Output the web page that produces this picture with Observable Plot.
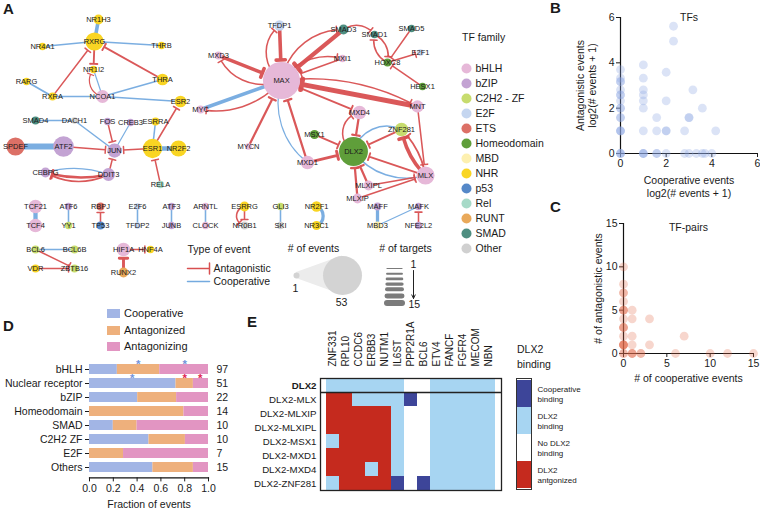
<!DOCTYPE html>
<html><head><meta charset="utf-8">
<script src="https://cdn.jsdelivr.net/npm/d3@7"></script>
<script src="https://cdn.jsdelivr.net/npm/@observablehq/plot@0.6"></script>
<style>
body{margin:0;background:#fff;}
#root{position:relative;width:760px;height:509px;overflow:hidden;font-family:"Liberation Sans",Arial,sans-serif;color:#1a1a1a;}
.lbl{position:absolute;font-weight:bold;font-size:15px;line-height:15px;}
.txt{position:absolute;font-size:10.5px;line-height:13px;white-space:nowrap;}
.sw{position:absolute;width:13px;height:9px;}
</style></head><body><div id="root"></div>
<script>
// ---------------- DATA ----------------
// Panel A: TF families and network
const families = ["bHLH","bZIP","C2H2 - ZF","E2F","ETS","Homeodomain","MBD","NHR","p53","Rel","RUNT","SMAD","Other"];
const familyColors = ["#e6b8d8","#c3a3d3","#c7dc6e","#c5d6f0","#dc7066","#5f9e3a","#fdf0b0","#f9d523","#5588c8","#a7dac8","#e9a95a","#4e8e81","#d0d0d0"];
// [name, family, number of events]
const tfNodes = [
 ["NR1H3","NHR",7],["RXRG","NHR",20],["NR4A1","NHR",3],["THRB","NHR",3],["NR1I2","NHR",3],["RARG","NHR",3],
 ["THRA","NHR",10],["RXRA","NHR",4],["NCOA1","bHLH",12],["ESR2","NHR",10],["MYC","bHLH",4],["MXD3","bHLH",4],
 ["SMAD4","SMAD",4],["DACH1","Other",2],["FOS","bZIP",3],["CREB3","bZIP",3],["ESRRA","NHR",4],["SPDEF","ETS",20],
 ["ATF2","bZIP",24],["JUN","bZIP",14],["ESR1","NHR",22],["NR2F2","NHR",17],["CEBPG","bZIP",7],["DDIT3","bZIP",12],
 ["RELA","Rel",3],["TFDP1","E2F",8],["SMAD3","SMAD",7],["SMAD1","SMAD",3],["SMAD5","SMAD",3],["MXI1","bHLH",3],
 ["HOXC8","Homeodomain",4],["E2F1","E2F",2],["MAX","bHLH",50],["HESX1","Homeodomain",3],["MNT","bHLH",11],
 ["MXD4","bHLH",13],["ZNF281","C2H2 - ZF",13],["MSX1","Homeodomain",6],["DLX2","Homeodomain",37],["MXD1","bHLH",13],
 ["MYCN","bHLH",2],["MLX","bHLH",20],["MLXIPL","bHLH",7],["MLXIP","bHLH",7],
 ["TCF21","bHLH",13],["TCF4","bHLH",13],["ATF6","bZIP",3],["YY1","C2H2 - ZF",3],["RBPJ","ETS",4],["TP53","p53",4],
 ["E2F6","E2F",2],["TFDP2","E2F",2],["ATF3","bZIP",3],["JUNB","bZIP",3],["ARNTL","bHLH",3],["CLOCK","bHLH",3],
 ["ESRRG","NHR",7],["NR0B1","Other",4],["GLI3","C2H2 - ZF",3],["SKI","Other",3],["NR2F1","NHR",8],["NR3C1","NHR",6],
 ["MAFF","bZIP",4],["MBD3","MBD",4],["MAFK","bZIP",3],["NFE2L2","bZIP",3],
 ["BCL6","C2H2 - ZF",4],["BCL6B","C2H2 - ZF",4],["VDR","NHR",4],["ZBTB16","C2H2 - ZF",4],["HIF1A","bHLH",13],
 ["HNF4A","NHR",3],["RUNX2","RUNT",7]
];
// [source, target, a = antagonistic / c = cooperative, number of targets]
const tfEdges = [
 ["NR1H3","RXRG","c",8],["NR4A1","RXRG","c",2],["RXRG","THRB","c",2],["RXRA","RXRG","a",2],["RXRG","NR1I2","a",3],
 ["THRA","RXRG","a",3],["NCOA1","NR1I2","c",1],["NCOA1","NR1I2","a",1],["RARG","RXRA","c",3],["RXRA","NCOA1","c",2],
 ["NCOA1","THRA","c",2],["NCOA1","ESR2","c",2],["ESR1","ESR2","a",2],["ESRRA","ESR1","c",2],["ESR1","NR2F2","c",10],
 ["RELA","ESR1","a",2],["ESR1","JUN","a",2],["SMAD4","DACH1","c",2],["DACH1","JUN","c",2],["FOS","JUN","a",2],
 ["CREB3","JUN","c",1],["SPDEF","ATF2","c",15],["ATF2","JUN","a",2],["DDIT3","JUN","a",2],["CEBPG","DDIT3","c",1],
 ["DDIT3","CEBPG","a",5],["DDIT3","CEBPG","a",3],
 ["MYC","MAX","c",8],["MAX","MYC","a",2],["MXD3","MAX","a",8],["MAX","MXD3","a",2],["TFDP1","MAX","a",8],
 ["MAX","TFDP1","a",2],["MYCN","MAX","a",4],["MXD1","MAX","a",4],["MXD1","MAX","c",1],["SMAD3","MAX","a",10],
 ["MAX","SMAD3","a",2],["MXI1","MAX","a",2],["MAX","MXI1","a",2],["MNT","MAX","a",12],["MAX","MNT","a",2],
 ["MAX","MXD4","a",3],["SMAD3","SMAD1","a",2],["SMAD1","HOXC8","a",2],["HOXC8","SMAD1","a",2],["SMAD5","HOXC8","a",2],
 ["HOXC8","E2F1","a",2],["HESX1","HOXC8","a",2],["MXD4","DLX2","a",4],["DLX2","MXD4","a",2],["MSX1","DLX2","a",3],
 ["MXD1","DLX2","a",6],["ZNF281","DLX2","a",3],["DLX2","ZNF281","c",2],["MLX","DLX2","a",3],["DLX2","MLX","c",2],
 ["MLXIPL","DLX2","a",4],["MLXIP","DLX2","a",4],["MLXIPL","MLX","a",2],["MLXIP","MLX","a",2],["MLX","ZNF281","a",8],
 ["MLX","ZNF281","a",3],["MNT","MLX","a",2],
 ["TCF21","TCF4","c",10],["ATF6","YY1","c",2],["TP53","RBPJ","a",2],["E2F6","TFDP2","c",2],["ATF3","JUNB","c",2],
 ["ARNTL","CLOCK","c",2],["ESRRG","NR0B1","a",2],["ESRRG","NR0B1","a",2],["GLI3","SKI","c",2],["NR2F1","NR3C1","c",7],
 ["MAFF","MBD3","c",7],["MBD3","MAFK","c",1],["NFE2L2","MAFK","a",2],["BCL6","BCL6B","c",2],["BCL6","ZBTB16","a",2],
 ["VDR","ZBTB16","a",2],["HIF1A","HNF4A","a",2],["RUNX2","HIF1A","a",6]
];
const eventsLegend = [1, 53];
const targetsLegend = [1, 3, 5, 7, 9, 12, 15];

// Panel B: TFs (raw event counts, plotted as log2(n + 1))
const tfCoopEvents  = [0,0,0,0,0,0,0,0,0,0,0,0,0,0,0,0,0,0, 1,1,1,1,1,1,1,1,1,1, 2,2,2,2, 3,3,3,3,3, 4,4, 6,6, 7,7,7, 8, 9, 11,11, 12, 15, 17];
const tfAntagEvents = [12,9,8,8,6,5,5,4,3,3,2,2,1,1,1,0,0,0, 14,9,6,5,4,3,1,0,0,0, 2,1,0,0, 11,4,1,1,0, 48,30, 1,0, 2,2,0, 6, 0, 3,0, 0, 0, 1];

// Panel C: TF-pairs
const pairCoop  = [0,0,0,0,0,0,0,0,0,0,0,0,0,0,0,0,0,0,0,0, 1,1,1,1,1,1,1, 2,2, 3,3, 6, 7, 10, 12, 15];
const pairAntag = [10,8,7,7,6,5,5,5,4,3,3,3,2,1,1,1,1,1,0,0, 5,4,2,1,0,0,0, 0,0, 4,1, 0, 2, 0, 0, 0];

// Panel D
const dFamilies = ["bHLH","Nuclear receptor","bZIP","Homeodomain","SMAD","C2H2 ZF","E2F","Others"];
const dCounts = [97, 51, 22, 14, 10, 10, 7, 15];
const eventTypes = ["Cooperative","Antagonized","Antagonizing"];
const fracCooperative  = [0.234, 0.727, 0.405, 0.000, 0.200, 0.500, 0.000, 0.533];
const fracAntagonized  = [0.356, 0.146, 0.327, 0.794, 0.200, 0.306, 0.286, 0.340];
const fracAntagonizing = [0.410, 0.127, 0.268, 0.206, 0.600, 0.194, 0.714, 0.127];
const dStars = [
 {family:"bHLH", x:0.41, kind:"coop"}, {family:"bHLH", x:0.80, kind:"coop"},
 {family:"Nuclear receptor", x:0.36, kind:"coop"}, {family:"Nuclear receptor", x:0.80, kind:"antag"},
 {family:"Nuclear receptor", x:0.93, kind:"antag"}
];

// Panel E
const eGenes = ["ZNF331","RPL10","CCDC6","ERBB3","NUTM1","IL6ST","PPP2R1A","BCL6","ETV4","FANCF","FGFR4","MECOM","NBN"];
const eRows = ["DLX2","DLX2-MLX","DLX2-MLXIP","DLX2-MLXIPL","DLX2-MSX1","DLX2-MXD1","DLX2-MXD4","DLX2-ZNF281"];
// D = cooperative binding, L = DLX2 binding, W = no DLX2 binding, R = DLX2 antagonized
const eStates = [
 "LLLLLLWWLLLLL",
 "RRLLLLDWLLLLL",
 "RRRRRLWWLLLLL",
 "RRRRRLWWLLLLL",
 "LRRRRLWWLLLLL",
 "RRRRRLWWLLLLL",
 "RRRLRLWWLLLLL",
 "LRRRRDWDLLLLL"
];
const eKeys = ["D","L","W","R"];
const eKeyLabels = ["Cooperative\nbinding","DLX2\nbinding","No DLX2\nbinding","DLX2\nantgonized"];

// ---------------- LAYOUT & STYLE ----------------
const FONT = "Liberation Sans, Arial, Helvetica, sans-serif";
const RED = "#d84f50", BLUE = "#74aadf";
const nodePos = {
 NR1H3:[98,19],RXRG:[94,41],NR4A1:[42,46],THRB:[161,45],NR1I2:[93,69],RARG:[26,81],THRA:[162,79],RXRA:[52,96],
 NCOA1:[102,96],ESR2:[180,101],MYC:[200,109],MXD3:[218,55],SMAD4:[35,120],DACH1:[74,120],FOS:[107,121],
 CREB3:[130,122],ESRRA:[155,121],SPDEF:[15,146],ATF2:[63,146],JUN:[114,150],ESR1:[152,148],NR2F2:[178,148],
 CEBPG:[45,172],DDIT3:[108,174],RELA:[160,184],
 TFDP1:[279,25],SMAD3:[343,29],SMAD1:[374,34],SMAD5:[411,28],MXI1:[342,58],HOXC8:[387,62],E2F1:[420,52],
 MAX:[281,80],HESX1:[422,86],MNT:[417,106],MXD4:[359,112],ZNF281:[401,129],MSX1:[314,134],DLX2:[353,151],
 MXD1:[307,162],MYCN:[248,146],MLX:[425,175],MLXIPL:[368,185],MLXIP:[357,198],
 TCF21:[35,206],TCF4:[35,225],ATF6:[68,206],YY1:[68,225],RBPJ:[100,206],TP53:[100,225],E2F6:[137,206],
 TFDP2:[137,225],ATF3:[171,206],JUNB:[171,225],ARNTL:[205,206],CLOCK:[205,225],ESRRG:[244,206],NR0B1:[244,225],
 GLI3:[280,206],SKI:[280,225],NR2F1:[316,206],NR3C1:[316,225],MAFF:[377,206],MBD3:[377,225],MAFK:[418,206],
 NFE2L2:[418,225],BCL6:[35,249],BCL6B:[74,249],VDR:[35,268],ZBTB16:[74,268],HIF1A:[123,249],HNF4A:[150,249],
 RUNX2:[123,272]
};
const edgeBend = {
 "NCOA1>NR1I2>a":[60],"CEBPG>DDIT3>c":[18],"DDIT3>CEBPG>a":[14,28],"MAX>MYC>a":[30],"MAX>MXD3>a":[45],
 "MAX>TFDP1>a":[55],"MXD1>MAX>c":[35],"MAX>SMAD3>a":[40],"MAX>MXI1>a":[35],"MAX>MNT>a":[18],"SMAD3>SMAD1>a":[45],
 "SMAD1>HOXC8>a":[40],"HOXC8>SMAD1>a":[40],"DLX2>MXD4>a":[70],"DLX2>ZNF281>c":[50],"DLX2>MLX>c":[-35],
 "MLX>ZNF281>a":[18,-18],"ESRRG>NR0B1>a":[0,-80],"NR2F1>NR3C1>c":[70]
};

const nodes = tfNodes.map(([name, fam, events]) => ({name, fam, events}));
const evOf = Object.fromEntries(nodes.map(d => [d.name, d.events]));
const rScale = {type: "linear", domain: [1, 53], range: [3, 19.5]};
const R = d3.scaleLinear().domain(rScale.domain).range(rScale.range);
const W = d3.scaleLinear().domain([1, 15]).range([1.2, 6]);
const bendUse = {};
function bendFor(e) {
  const k = `${e[0]}>${e[1]}>${e[2]}`;
  const arr = edgeBend[k]; if (!arr) return 0;
  const i = bendUse[k] = (bendUse[k] ?? -1) + 1;
  return arr[Math.min(i, arr.length - 1)];
}
const baseStyle = {background: "none", fontFamily: FONT, fontSize: "10.5px", color: "#1a1a1a", overflow: "visible"};
const root = document.getElementById("root");
function place(el, left, top) { el.style.position = "absolute"; el.style.left = left + "px"; el.style.top = top + "px"; root.appendChild(el); return el; }
function html(cls, text, left, top, extra) { const d = document.createElement("div"); d.className = cls; d.textContent = text; d.style.left = left + "px"; d.style.top = top + "px"; if (extra) Object.assign(d.style, extra); root.appendChild(d); return d; }

// ---------------- PANEL A ----------------
const edgeMarks = tfEdges.map(e => {
  const [s, t, kind, n] = e;
  const sw = W(n), isA = kind === "a";
  const half = 2.6 + sw * 0.55;
  return Plot.arrow([e], {
    x1: d => nodePos[d[0]][0], y1: d => nodePos[d[0]][1],
    x2: d => nodePos[d[1]][0], y2: d => nodePos[d[1]][1],
    stroke: isA ? RED : BLUE, strokeWidth: sw, strokeOpacity: 0.95,
    bend: bendFor(e), headAngle: 180, headLength: isA ? half * 1.5 / sw : 0,
    insetStart: isA ? R(evOf[s]) * 0.6 : 0, insetEnd: isA ? R(evOf[t]) + 2 : 0
  });
});
const plotA = Plot.plot({
  width: 520, height: 310, margin: 0, style: baseStyle,
  x: {domain: [0, 520], range: [0, 520], axis: null},
  y: {domain: [0, 310], range: [0, 310], axis: null},
  r: rScale,
  color: {domain: families, range: familyColors},
  marks: [
    ...edgeMarks,
    Plot.dot(nodes, {x: d => nodePos[d.name][0], y: d => nodePos[d.name][1], r: "events", fill: "fam"}),
    Plot.text(nodes, {x: d => nodePos[d.name][0], y: d => nodePos[d.name][1], text: "name", fontSize: 7.5, fill: "#1a1a1a"}),
    // Type of event legend
    Plot.text(["Type of event"], {x: () => 187, y: () => 249, textAnchor: "start", fontSize: 10.5}),
    Plot.arrow(["Antagonistic"], {x1: () => 187, x2: () => 209, y1: () => 268, y2: () => 268, stroke: RED, strokeWidth: 1.5, headAngle: 180, headLength: 5.5}),
    Plot.arrow(["Cooperative"], {x1: () => 187, x2: () => 209, y1: () => 281, y2: () => 281, stroke: BLUE, strokeWidth: 1.5, headLength: 0}),
    Plot.text(["Antagonistic","Cooperative"], {x: () => 213, y: (d, i) => 268 + i * 13, text: d => d, textAnchor: "start", fontSize: 10.5}),
    // # of events legend
    Plot.text(["# of events"], {x: () => 313, y: () => 248, fontSize: 10.5}),
    Plot.areaY(eventsLegend, {x: (d, i) => i ? 342 : 296, y1: d => 275 - R(d), y2: d => 275 + R(d), fill: "#ececec"}),
    Plot.dot(eventsLegend, {x: (d, i) => i ? 342 : 296, y: () => 275, r: d => d, fill: "#d3d3d3"}),
    Plot.text(eventsLegend, {x: (d, i) => i ? 341 : 295, y: (d, i) => i ? 302 : 288, text: d => String(d), fontSize: 10.5}),
    // # of targets legend
    Plot.text(["# of targets"], {x: () => 405, y: () => 248, fontSize: 10.5}),
    Plot.ruleY(targetsLegend, {y: (d, i) => 268 + i * 5.2 + (i > 4 ? (i - 4) * 1.6 : 0), x1: () => 387, x2: () => 402, strokeWidth: d => W(d), stroke: "#7b7b7b", strokeLinecap: "round"}),
    Plot.arrow([0], {x1: () => 413, x2: () => 413, y1: () => 270, y2: () => 298, stroke: "#222", strokeWidth: 1, headLength: 6, headAngle: 50}),
    Plot.text(["1"], {x: () => 413, y: () => 264, fontSize: 10.5}),
    Plot.text(["15"], {x: () => 408, y: () => 304, textAnchor: "start", fontSize: 10.5})
  ]
});
place(plotA, 0, 0);

// TF family legend
const plotFam = Plot.plot({
  width: 100, height: 245, margin: 0, style: baseStyle,
  y: {type: "point", domain: families, range: [32, 233], axis: null},
  color: {domain: families, range: familyColors},
  marks: [
    Plot.dot(families, {y: d => d, frameAnchor: "left", dx: 11, r: 5, fill: d => d}),
    Plot.text(families, {y: d => d, text: d => d, frameAnchor: "left", dx: 20, textAnchor: "start", fontSize: 10.5})
  ]
});
place(plotFam, 455, 25);
html("txt", "TF family", 462, 31);

// ---------------- PANEL B ----------------
const tfPoints = tfCoopEvents.map((c, i) => ({coop: Math.log2(c + 1), antag: Math.log2(tfAntagEvents[i] + 1)}));
const plotB = Plot.plot({
  width: 240, height: 200, marginLeft: 100, marginRight: 3, marginTop: 17, marginBottom: 47, style: baseStyle,
  x: {domain: [0, 6], label: null}, y: {domain: [0, 6], label: null},
  marks: [
    Plot.axisX({ticks: [0, 2, 4, 6], tickFormat: "d", tickSize: 4, tickPadding: 2, fontSize: 10.5, label: null}),
    Plot.axisY({ticks: [0, 2, 4, 6], tickFormat: "d", tickSize: 4, tickPadding: 2, fontSize: 10.5, label: null}),
    Plot.ruleX([0], {stroke: "#111", strokeWidth: 1.2}),
    Plot.ruleY([0], {stroke: "#111", strokeWidth: 1.2}),
    Plot.dot(tfPoints, {x: "coop", y: "antag", r: 4.4, fill: "#8ea8e3", fillOpacity: 0.32}),
    Plot.text(["TFs"], {frameAnchor: "top", lineAnchor: "middle", dy: 0, fontSize: 10.5}),
    Plot.text(["Antagonistic events"], {frameAnchor: "left", textAnchor: "middle", rotate: -90, dx: -40, fontSize: 10.5}),
    Plot.text(["log2(# events + 1)"], {frameAnchor: "left", textAnchor: "middle", rotate: -90, dx: -28, fontSize: 10.5}),
    Plot.text(["Cooperative events"], {frameAnchor: "bottom", lineAnchor: "middle", dy: 27, fontSize: 10.5}),
    Plot.text(["log2(# events + 1)"], {frameAnchor: "bottom", lineAnchor: "middle", dy: 40, fontSize: 10.5})
  ]
});
place(plotB, 520, 0);

// ---------------- PANEL C ----------------
const pairPoints = pairCoop.map((c, i) => ({coop: c, antag: pairAntag[i]}));
const plotC = Plot.plot({
  width: 240, height: 180, marginLeft: 103, marginRight: 7, marginTop: 18, marginBottom: 32, style: baseStyle,
  x: {domain: [0, 15], label: null}, y: {domain: [0, 15], label: null},
  marks: [
    Plot.axisX({ticks: [0, 5, 10, 15], tickFormat: "d", tickSize: 4, tickPadding: 2, fontSize: 10.5, label: null}),
    Plot.axisY({ticks: [0, 5, 10, 15], tickFormat: "d", tickSize: 4, tickPadding: 2, fontSize: 10.5, label: null}),
    Plot.ruleX([0], {stroke: "#111", strokeWidth: 1.2}),
    Plot.ruleY([0], {stroke: "#111", strokeWidth: 1.2}),
    Plot.dot(pairPoints, {x: "coop", y: "antag", r: 4.4, fill: "#e46a4c", fillOpacity: 0.28}),
    Plot.text(["TF-pairs"], {frameAnchor: "top", lineAnchor: "middle", dy: 4, fontSize: 10.5}),
    Plot.text(["# of antagonistic events"], {frameAnchor: "left", textAnchor: "middle", rotate: -90, dx: -25, fontSize: 10.5}),
    Plot.text(["# of cooperative events"], {frameAnchor: "bottom", lineAnchor: "middle", dy: 25, fontSize: 10.5})
  ]
});
place(plotC, 520, 205);

// ---------------- PANEL D ----------------
const dColors = ["#a2b5e5", "#eeb07c", "#e295c2"];
const dRows = [];
dFamilies.forEach((f, i) => {
  dRows.push({family: f, type: "Cooperative", value: fracCooperative[i]});
  dRows.push({family: f, type: "Antagonized", value: fracAntagonized[i]});
  dRows.push({family: f, type: "Antagonizing", value: fracAntagonizing[i]});
});
const plotD = Plot.plot({
  width: 240, height: 174, marginLeft: 89, marginRight: 32, marginTop: 22.6, marginBottom: 31.6, style: baseStyle,
  x: {domain: [0, 1], label: null},
  y: {domain: dFamilies, padding: 0.3, label: null},
  color: {domain: eventTypes, range: dColors},
  marks: [
    Plot.barX(dRows, {x: "value", y: "family", fill: "type"}),
    Plot.frame({anchor: "bottom", stroke: "#111", strokeWidth: 1.2}),
    Plot.axisX({ticks: [0, 0.2, 0.4, 0.6, 0.8, 1], tickFormat: ".1f", tickSize: 4, tickPadding: 3, fontSize: 10.5, label: null}),
    Plot.axisY({tickSize: 4, tickPadding: 3, fontSize: 10.5, label: null}),
    Plot.text(dFamilies, {x: () => 1, y: d => d, text: (d, i) => String(dCounts[i]), dx: 8, textAnchor: "start", fontSize: 10.5}),
    Plot.text(dStars, {x: "x", y: "family", text: () => "*", fill: d => d.kind === "coop" ? "#7394da" : "#e0244f", dy: -5.5, fontSize: 11.5, fontWeight: "bold"}),
    Plot.text(["Fraction of events"], {frameAnchor: "bottom", lineAnchor: "middle", dy: 27, fontSize: 10.5})
  ]
});
place(plotD, 0, 335);
eventTypes.forEach((t, i) => {
  const sw = document.createElement("div"); sw.className = "sw"; sw.style.left = "107px"; sw.style.top = (309 + i * 16.5) + "px"; sw.style.background = dColors[i]; root.appendChild(sw);
  html("txt", t, 124, 307 + i * 16.5, {fontSize: "11px"});
});

// ---------------- PANEL E ----------------
const eColors = ["#3d4599", "#a7d5f2", "#ffffff", "#c52a1e"];
const eCells = [];
eRows.forEach((r, i) => eGenes.forEach((g, j) => eCells.push({row: r, gene: g, state: eStates[i][j]})));
const plotE = Plot.plot({
  width: 275, height: 209, marginLeft: 80, marginRight: 14, marginTop: 78, marginBottom: 19, style: baseStyle,
  x: {domain: eGenes, padding: 0, label: null},
  y: {domain: eRows, padding: 0, label: null},
  color: {domain: eKeys, range: eColors},
  marks: [
    Plot.cell(eCells, {x: "gene", y: "row", fill: "state", inset: 0}),
    Plot.frame({stroke: "#222", strokeWidth: 1.3}),
    Plot.ruleY(["DLX2"], {dy: 7, stroke: "#222", strokeWidth: 1.3}),
    Plot.axisX({anchor: "top", tickRotate: -90, tickSize: 0, tickPadding: 12, fontSize: 10, label: null}),
    Plot.axisY({tickSize: 0, tickPadding: 4, fontSize: 9.7, label: null})
  ]
});
place(plotE, 240, 300);
plotE.querySelectorAll("text").forEach(t => { if (t.textContent === "DLX2") t.style.fontWeight = "bold"; });

const plotEL = Plot.plot({
  width: 110, height: 111, margin: 0, marginRight: 95, style: baseStyle,
  x: {domain: [0, 1], axis: null},
  y: {domain: eKeys, padding: 0, axis: null},
  color: {domain: eKeys, range: eColors},
  marks: [
    Plot.barX(eKeys, {x1: 0, x2: 1, y: d => d, fill: d => d}),
    Plot.frame({stroke: "#333", strokeWidth: 1}),
    Plot.text(eKeys, {y: d => d, text: (d, i) => eKeyLabels[i], frameAnchor: "right", dx: 6, textAnchor: "start", fontSize: 8, lineHeight: 1.25})
  ]
});
place(plotEL, 516, 378);
html("txt", "DLX2\nbinding", 517, 342, {whiteSpace: "pre", lineHeight: "15px"});

// Panel letters
html("lbl", "A", 3, 1); html("lbl", "B", 550, 0); html("lbl", "C", 550, 199);
html("lbl", "D", 3, 318); html("lbl", "E", 247, 314);
</script></body></html>
